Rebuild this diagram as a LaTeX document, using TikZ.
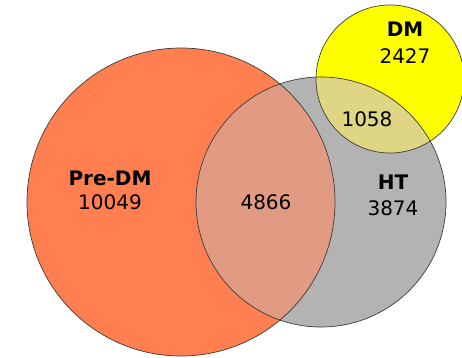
\documentclass[tikz,border=0pt]{standalone}
\usepackage{fontspec}
\setmainfont{DejaVu Sans}
\usepackage{tikz}
\usetikzlibrary{calc}
\usetikzlibrary{positioning}

\definecolor{predmcol}{RGB}{255,127,80}
\definecolor{htcol}{RGB}{179,179,179}
\definecolor{dmcol}{RGB}{255,255,0}
\definecolor{predmhtcol}{RGB}{224,155,130}
\definecolor{dmhtcol}{RGB}{222,214,130}
\definecolor{rimcol}{RGB}{60,60,60}

\tikzset{
  rim/.style={draw=rimcol, line width=.7pt},
  setname/.style={anchor=base, font=\fontsize{20}{24}\selectfont\bfseries},
  setsize/.style={anchor=base, font=\fontsize{20}{24}\selectfont}
}

\begin{document}
\begin{tikzpicture}[x=1pt,y=-1pt]
  \useasboundingbox (0,0) rectangle (462,357);
  % circles
  \fill[predmcol] (181,202) circle [radius=154];
  \fill[htcol] (321,202) circle [radius=125];
  \fill[dmcol] (390,79) circle [radius=74];
  % overlaps
  \begin{scope}
    \clip (181,202) circle [radius=154];
    \fill[predmhtcol] (321,202) circle [radius=125];
  \end{scope}
  \begin{scope}
    \clip (390,79) circle [radius=74];
    \fill[dmhtcol] (321,202) circle [radius=125];
  \end{scope}
  \draw[rim] (181,202) circle [radius=154];
  \draw[rim] (321,202) circle [radius=125];
  \draw[rim] (390,79) circle [radius=74];
  % labels
  \node[setname] (predm) at (110,185) {Pre-DM};
  \node[setsize] (npredm) at (110,209) {10049};
  \node[setsize] (npredmht) at (266,209) {4866};
  \node[setname] (ht) at (393,189) {HT};
  \node[setsize] (nht) at (393,215) {3874};
  \node[setname] (dm) at (405,36) {DM};
  \node[setsize] (ndm) at (405,63) {2427};
  \node[setsize] (ndmht) at (367,126) {1058};
\end{tikzpicture}
\end{document}
